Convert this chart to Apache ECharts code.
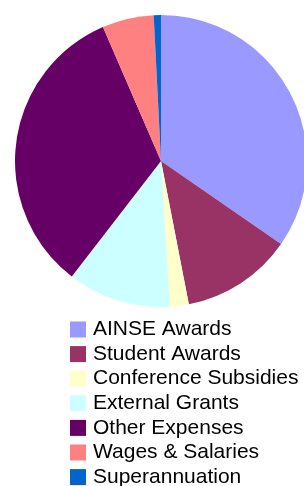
<!DOCTYPE html>
<html>
<head>
<meta charset="utf-8">
<script src="https://cdn.jsdelivr.net/npm/echarts@6/dist/echarts.min.js"></script>
<style>html,body{margin:0;padding:0;background:#fff;}#c{width:304px;height:486px;}</style>
</head>
<body>
<div id="c"></div>
<script>
var categories = ["AINSE Awards", "Student Awards", "Conference Subsidies", "External Grants", "Other Expenses", "Wages & Salaries", "Superannuation"];
var values = [34.6, 12.3, 2.1, 11.4, 33.0, 5.7, 0.8];
var colors = ["#9999ff", "#993366", "#ffffcc", "#ccffff", "#660066", "#ff8080", "#0066cc"];

var chart = echarts.init(document.getElementById('c'), null, {renderer: 'canvas'});
chart.setOption({
  animation: false,
  color: colors,
  legend: {
    orient: 'vertical',
    left: 70,
    top: 319,
    height: 200,
    icon: 'rect',
    itemWidth: 16,
    itemHeight: 16,
    itemGap: 3.6,
    padding: 0,
    selectedMode: false,
    textStyle: {fontFamily: 'Liberation Sans', fontSize: 21, color: '#000', lineHeight: 20, padding: [0, 0, 0, 2]},
    data: categories
  },
  series: [{
    type: 'pie',
    center: [161, 161],
    radius: 146,
    startAngle: 90,
    clockwise: true,
    label: {show: false},
    labelLine: {show: false},
    itemStyle: {borderWidth: 0},
    emphasis: {disabled: true},
    data: categories.map(function (n, i) { return {name: n, value: values[i]}; })
  }]
});
</script>
</body>
</html>
